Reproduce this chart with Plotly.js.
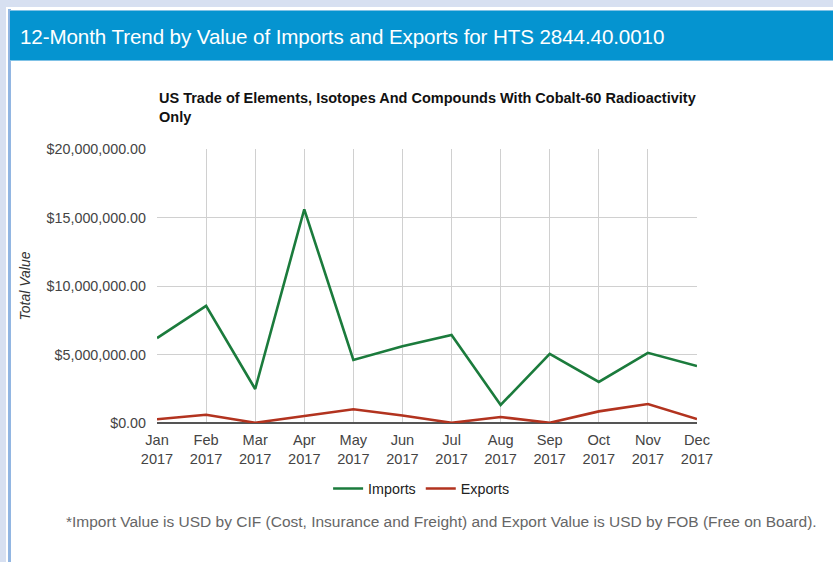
<!DOCTYPE html>
<html>
<head>
<meta charset="utf-8">
<script src="https://cdn.plot.ly/plotly-3.0.1.min.js"></script>
<style>
  html, body { margin:0; padding:0; width:833px; height:562px; overflow:hidden; background:#ffffff; font-family:"Liberation Sans", Arial, sans-serif; }
  #leftband { position:absolute; left:0; top:0; width:6px; height:562px; background:#d7e0f1; }
  #topband { position:absolute; left:0; top:0; width:833px; height:7px; background:#d7e0f1; }
  #leftline { position:absolute; left:8px; top:9px; width:3px; height:553px; background:#92b6e2; }
  #header { position:absolute; left:10px; top:10px; width:823px; height:51px; background:#0594d0; border-top:1px solid #7fc2e6; border-bottom:1px solid #7fc2e6; box-sizing:border-box; }
  #header span { position:absolute; left:10px; top:14px; color:#ffffff; font-size:20.6px; letter-spacing:-0.1px; white-space:nowrap; }
  #chart { position:absolute; left:0; top:0; width:833px; height:562px; }
</style>
</head>
<body>
<div id="topband"></div>
<div id="leftband"></div>
<div id="leftline"></div>
<div id="header"><span>12-Month Trend by Value of Imports and Exports for HTS 2844.40.0010</span></div>
<div id="chart"></div>
<script>
const months = ["Jan<br>2017","Feb<br>2017","Mar<br>2017","Apr<br>2017","May<br>2017","Jun<br>2017","Jul<br>2017","Aug<br>2017","Sep<br>2017","Oct<br>2017","Nov<br>2017","Dec<br>2017"];
const imports = [6200000, 8550000, 2480000, 15600000, 4600000, 5600000, 6420000, 1320000, 5050000, 3000000, 5120000, 4160000];
const exports = [270000, 600000, 20000, 530000, 1000000, 550000, 20000, 440000, 20000, 850000, 1390000, 290000];
const yTickVals = [0, 5000000, 10000000, 15000000, 20000000];
const yTickText = ["$0.00", "$5,000,000.00", "$10,000,000.00", "$15,000,000.00", "$20,000,000.00"];

const traces = [
  { x: months, y: imports, name: "Imports", type: "scatter", mode: "lines",
    line: { color: "#1b7b3c", width: 2.6 } },
  { x: months, y: exports, name: "Exports", type: "scatter", mode: "lines",
    line: { color: "#b2331f", width: 2.6 } }
];

const layout = {
  width: 833, height: 562,
  margin: { l: 157, r: 136, t: 149, b: 139, pad: 0 },
  paper_bgcolor: "rgba(0,0,0,0)",
  plot_bgcolor: "#ffffff",
  font: { family: "Liberation Sans, Arial, sans-serif", color: "#444444", size: 14 },
  showlegend: true,
  legend: { orientation: "h", x: 0.49, xanchor: "center", y: -0.24, yanchor: "middle",
    font: { size: 14.3, color: "#222222" }, itemwidth: 30, tracegroupgap: 0 },
  xaxis: {
    type: "category", range: [0, 11], showgrid: true, gridcolor: "#d0d0d0", gridwidth: 1,
    showline: false, zeroline: false, ticks: "", tickfont: { size: 14.6, color: "#444444" },
    fixedrange: true, ticklabelstandoff: 6
  },
  yaxis: {
    range: [0, 20000000], tickvals: yTickVals, ticktext: yTickText,
    showgrid: true, gridcolor: "#d0d0d0", gridwidth: 1,
    zeroline: true, zerolinecolor: "#555555", zerolinewidth: 1.5,
    showline: false, ticks: "", tickfont: { size: 14.3, color: "#444444" },
    ticklabelstandoff: 10,
    title: { text: "<i>Total Value</i>", font: { size: 14, color: "#333333" }, standoff: 12 },
    fixedrange: true
  },
  annotations: [
    { text: "<b>US Trade of Elements, Isotopes And Compounds With Cobalt-60 Radioactivity<br>Only</b>",
      xref: "paper", yref: "paper", x: 0, y: 1, xanchor: "left", yanchor: "bottom",
      yshift: 22, align: "left", showarrow: false,
      font: { size: 14.5, color: "#111111" } },
    { text: "*Import Value is USD by CIF (Cost, Insurance and Freight) and Export Value is USD by FOB (Free on Board).",
      xref: "paper", yref: "paper", x: 0.527, y: 0, xanchor: "center", yanchor: "middle",
      yshift: -98, showarrow: false,
      font: { size: 15.5, color: "#666666" } }
  ]
};

Plotly.newPlot("chart", traces, layout, { displayModeBar: false, staticPlot: true });
</script>
</body>
</html>
